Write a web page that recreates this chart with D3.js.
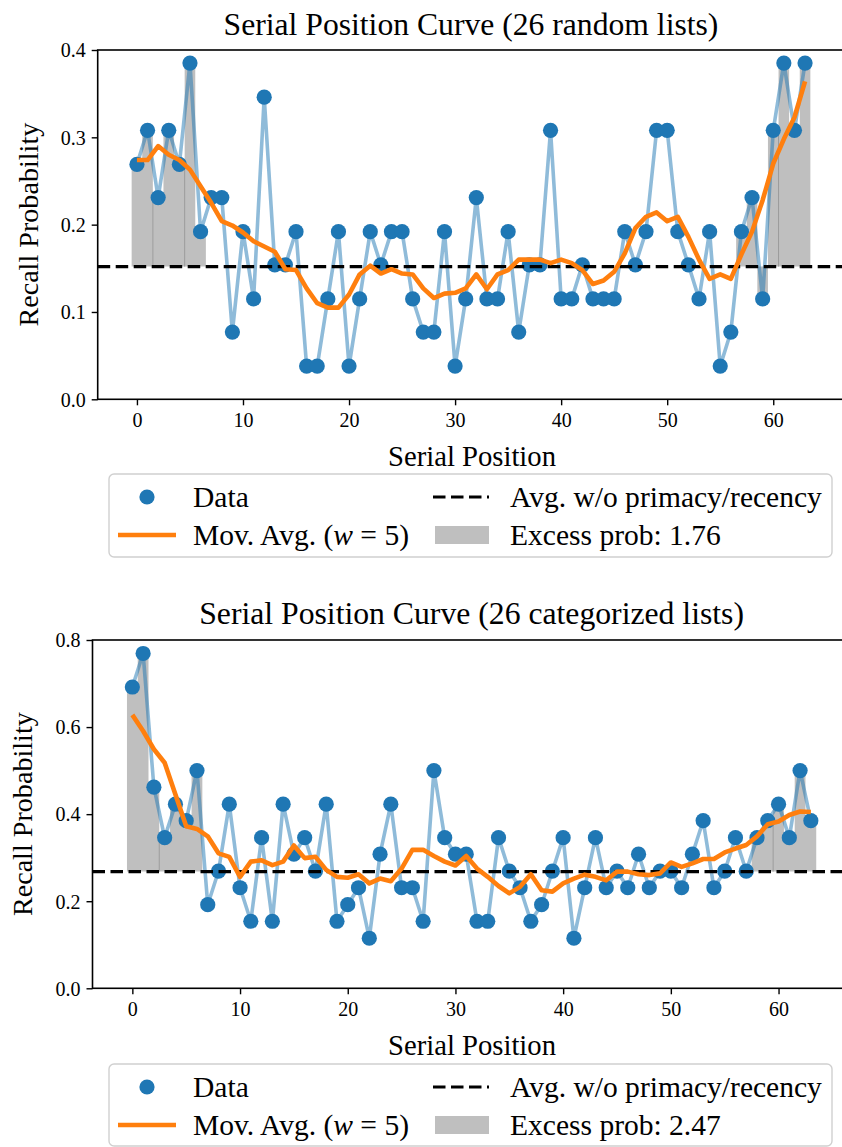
<!DOCTYPE html>
<html><head><meta charset="utf-8">
<script src="https://cdn.jsdelivr.net/npm/d3@7"></script>
<style>
body{margin:0;background:#fff}
svg{display:block}
text{font-family:"Liberation Serif","Times New Roman",serif;fill:#000}
</style>
</head><body>
<svg id="c" width="842" height="1147"></svg>
<script>
// ---------------- data ----------------
const positions = [0,1,2,3,4,5,6,7,8,9,10,11,12,13,14,15,16,17,18,19,20,21,22,23,24,25,26,27,28,29,30,31,
  32,33,34,35,36,37,38,39,40,41,42,43,44,45,46,47,48,49,50,51,52,53,54,55,56,57,58,59,60,61,62,63];

const randomRecall = [0.269,0.308,0.231,0.308,0.269,0.385,0.192,0.231,0.231,0.077,
  0.192,0.115,0.346,0.154,0.154,0.192,0.038,0.038,0.115,0.192,
  0.038,0.115,0.192,0.154,0.192,0.192,0.115,0.077,0.077,0.192,
  0.038,0.115,0.231,0.115,0.115,0.192,0.077,0.154,0.154,0.308,
  0.115,0.115,0.154,0.115,0.115,0.115,0.192,0.154,0.192,0.308,
  0.308,0.192,0.154,0.115,0.192,0.038,0.077,0.192,0.231,0.115,
  0.308,0.385,0.308,0.385];
const randomMovAvg = [0.274,0.274,0.290,0.280,0.274,0.263,0.244,0.225,0.204,0.199,
  0.191,0.181,0.175,0.169,0.149,0.148,0.127,0.110,0.105,0.105,
  0.120,0.143,0.153,0.144,0.149,0.144,0.143,0.127,0.116,0.121,
  0.122,0.127,0.143,0.126,0.143,0.148,0.160,0.160,0.160,0.156,
  0.160,0.156,0.148,0.132,0.136,0.146,0.167,0.196,0.209,0.214,
  0.204,0.209,0.186,0.160,0.138,0.143,0.138,0.166,0.192,0.228,
  0.270,0.298,0.323,0.364];
const randomBaseline = 0.152;
const randomExcess = "1.76";
const randomExcessGroups = [[0,1],[2,4],[5,6],[57,60],[61,63]];

const catRecall = [0.692,0.769,0.462,0.346,0.423,0.385,0.500,0.192,0.269,0.423,
  0.231,0.154,0.346,0.154,0.423,0.308,0.346,0.269,0.423,0.154,
  0.192,0.231,0.115,0.308,0.423,0.231,0.231,0.154,0.500,0.346,
  0.308,0.308,0.154,0.154,0.346,0.269,0.231,0.154,0.192,0.269,
  0.346,0.115,0.231,0.346,0.231,0.269,0.231,0.308,0.231,0.269,
  0.269,0.231,0.308,0.385,0.231,0.269,0.346,0.269,0.346,0.385,
  0.423,0.346,0.500,0.385];
const catMovAvg = [0.628,0.591,0.549,0.518,0.445,0.372,0.366,0.349,0.310,0.302,
  0.256,0.291,0.294,0.283,0.291,0.328,0.299,0.302,0.272,0.256,
  0.254,0.262,0.241,0.252,0.246,0.275,0.318,0.318,0.304,0.291,
  0.282,0.304,0.275,0.256,0.235,0.218,0.233,0.262,0.225,0.222,
  0.241,0.252,0.261,0.256,0.248,0.268,0.268,0.262,0.260,0.264,
  0.289,0.279,0.287,0.297,0.297,0.312,0.321,0.329,0.349,0.377,
  0.383,0.398,0.406,0.405];
const catBaseline = 0.268;
const catExcess = "2.47";
const catExcessGroups = [[0,2],[3,6],[58,59],[60,63]];

const xTicks = [0,10,20,30,40,50,60];
const yTicksTop = [0.0,0.1,0.2,0.3,0.4];
const yTicksBottom = [0.0,0.2,0.4,0.6,0.8];
const titles = ["Serial Position Curve (26 random lists)", "Serial Position Curve (26 categorized lists)"];
const xLabel = "Serial Position";
const yLabel = "Recall Probability";
const legendLabels = ["Data", "Avg. w/o primacy/recency", "Excess prob: "];

// ---------------- drawing ----------------
const svg = d3.select("#c");
const BLUE = "#1f77b4", ORANGE = "#ff7f0e";

function fitFont(sel, target){
  sel.attr("font-size", 20);
  const w = sel.node().getComputedTextLength();
  const fs = 20 * target / w;
  sel.attr("font-size", fs);
  return fs;
}

function panel(cfg, id){
  const g = svg.append("g");
  const x = d3.scaleLinear().domain([-3.7, 66.7]).range([cfg.left, cfg.right]);
  const y = d3.scaleLinear().domain(cfg.yDomain).range([cfg.bottom, cfg.top]);

  svg.append("clipPath").attr("id","clip"+id).append("rect")
    .attr("x",cfg.left).attr("y",cfg.top).attr("width",cfg.right-cfg.left).attr("height",cfg.bottom-cfg.top);
  const plot = g.append("g").attr("clip-path","url(#clip"+id+")");

  const vals = cfg.values, base = cfg.baseline;

  // excess probability fill (bars of width 1 around each position)
  const stepArea = d3.area().curve(d3.curveStepAfter)
    .x(d => x(d[0])).y0(y(base)).y1(d => y(d[1]));
  cfg.groups.forEach(([a,b]) => {
    const pts = [];
    for (let i = a; i <= b; i++) pts.push([positions[i]-0.5, vals[i]]);
    pts.push([positions[b]+0.5, vals[b]]);
    plot.append("path").attr("d", stepArea(pts)).attr("fill","#bfbfbf");
  });
  // thin seams between adjacent fill groups
  for (let k = 1; k < cfg.groups.length; k++){
    const prev = cfg.groups[k-1], cur = cfg.groups[k];
    if (cur[0] === prev[1] + 1){
      const v1 = vals[prev[1]], v2 = vals[cur[0]];
      const v = Math.abs(v1-base) < Math.abs(v2-base) ? v1 : v2;
      plot.append("line").attr("x1", x(positions[cur[0]]-0.5)).attr("x2", x(positions[cur[0]]-0.5))
        .attr("y1", y(base)).attr("y2", y(v)).attr("stroke","#9a9a9a").attr("stroke-width",1);
    }
  }

  // data line + points
  plot.append("path").datum(vals)
    .attr("d", d3.line().x((d,i)=>x(positions[i])).y(d=>y(d)))
    .attr("fill","none").attr("stroke",BLUE).attr("stroke-opacity",0.5)
    .attr("stroke-width",3.6).attr("stroke-linejoin","round");
  plot.selectAll("circle.pt").data(vals).join("circle").attr("class","pt")
    .attr("cx",(d,i)=>x(positions[i])).attr("cy",d=>y(d)).attr("r",7.6).attr("fill",BLUE);

  // baseline
  plot.append("line").attr("x1",cfg.left).attr("x2",cfg.right)
    .attr("y1",y(base)).attr("y2",y(base))
    .attr("stroke","#000").attr("stroke-width",3.2).attr("stroke-dasharray","12.5,5.5");

  // moving average
  plot.append("path").datum(cfg.movAvg)
    .attr("d", d3.line().x((d,i)=>x(positions[i])).y(d=>y(d)))
    .attr("fill","none").attr("stroke",ORANGE).attr("stroke-width",4.6)
    .attr("stroke-linejoin","round").attr("stroke-linecap","butt");

  // spines
  g.append("rect").attr("x",cfg.left).attr("y",cfg.top).attr("width",cfg.right-cfg.left)
    .attr("height",cfg.bottom-cfg.top).attr("fill","none").attr("stroke","#000").attr("stroke-width",1.6);

  // axes
  const xa = g.append("g").attr("transform",`translate(0,${cfg.bottom})`)
    .call(d3.axisBottom(x).tickValues(xTicks).tickFormat(d3.format("d")).tickSize(6).tickPadding(8));
  const ya = g.append("g").attr("transform",`translate(${cfg.left},0)`)
    .call(d3.axisLeft(y).tickValues(cfg.yTicks).tickFormat(d3.format(".1f")).tickSize(6).tickPadding(6));
  [xa,ya].forEach(a => {
    a.select(".domain").remove();
    a.selectAll(".tick line").attr("stroke","#000").attr("stroke-width",1.4);
    a.selectAll("text").attr("font-size",20).attr("font-family","Liberation Serif").attr("fill","#000");
  });
  ya.selectAll("text").attr("dy","0.34em");

  // title & labels
  const t = g.append("text").attr("x",(cfg.left+cfg.right)/2 - 0).attr("y",cfg.titleY)
    .attr("text-anchor","middle").text(cfg.title);
  fitFont(t, cfg.titleW);
  const xl = g.append("text").attr("x",cfg.xLabelX).attr("y",cfg.xLabelY)
    .attr("text-anchor","middle").text(xLabel);
  fitFont(xl, 168);
  const yl = g.append("text").attr("transform",`translate(${cfg.yLabelX},${(cfg.top+cfg.bottom)/2}) rotate(-90)`)
    .attr("text-anchor","middle").attr("dy","0.35em").text(yLabel);
  fitFont(yl, 204);

  // legend
  const L = cfg.legend;
  const lg = g.append("g");
  lg.append("rect").attr("x",L.x0).attr("y",L.y0).attr("width",L.x1-L.x0).attr("height",L.y1-L.y0)
    .attr("rx",5).attr("fill","#fff").attr("fill-opacity",0.8).attr("stroke","#d0d0d0").attr("stroke-width",1.4);
  lg.append("circle").attr("cx",147).attr("cy",L.r1).attr("r",7.6).attr("fill",BLUE);
  lg.append("line").attr("x1",118).attr("x2",176).attr("y1",L.r2).attr("y2",L.r2)
    .attr("stroke",ORANGE).attr("stroke-width",4.6);
  lg.append("line").attr("x1",433).attr("x2",489).attr("y1",L.r1).attr("y2",L.r1)
    .attr("stroke","#000").attr("stroke-width",3.2).attr("stroke-dasharray","12.5,5.5");
  lg.append("rect").attr("x",435).attr("y",L.r2-9).attr("width",54).attr("height",18).attr("fill","#bfbfbf");
  const avgT = lg.append("text").attr("x",510).attr("y",L.r1).text(legendLabels[1]);
  const fs = fitFont(avgT, 312);
  const bl = fs*0.33;
  avgT.attr("y", L.r1 + bl);
  lg.append("text").attr("x",193).attr("y",L.r1+bl).attr("font-size",fs).text(legendLabels[0]);
  const mv = lg.append("text").attr("x",193).attr("y",L.r2+bl).attr("font-size",fs);
  mv.append("tspan").text("Mov. Avg. (");
  mv.append("tspan").attr("font-style","italic").text("w");
  mv.append("tspan").text(" = 5)");
  lg.append("text").attr("x",510).attr("y",L.r2+bl).attr("font-size",fs).text(legendLabels[2] + cfg.excess);
}

panel({
  left:97.7, right:844.3, top:50, bottom:399.3, yDomain:[0,0.4], yTicks:yTicksTop,
  values: randomRecall, movAvg: randomMovAvg, baseline: randomBaseline, groups: randomExcessGroups,
  title: titles[0], titleY: 35, titleW: 495, xLabelX: 472, xLabelY: 466, yLabelX: 28,
  excess: randomExcess, legend:{x0:109, x1:832, y0:474, y1:557, r1:497, r2:535}
}, 0);

panel({
  left:92.5, right:850.7, top:640, bottom:988.3, yDomain:[0,0.8], yTicks:yTicksBottom,
  values: catRecall, movAvg: catMovAvg, baseline: catBaseline, groups: catExcessGroups,
  title: titles[1], titleY: 624, titleW: 545, xLabelX: 472, xLabelY: 1055, yLabelX: 22,
  excess: catExcess, legend:{x0:109, x1:832, y0:1064, y1:1146, r1:1087, r2:1125}
}, 1);
</script>
</body></html>
